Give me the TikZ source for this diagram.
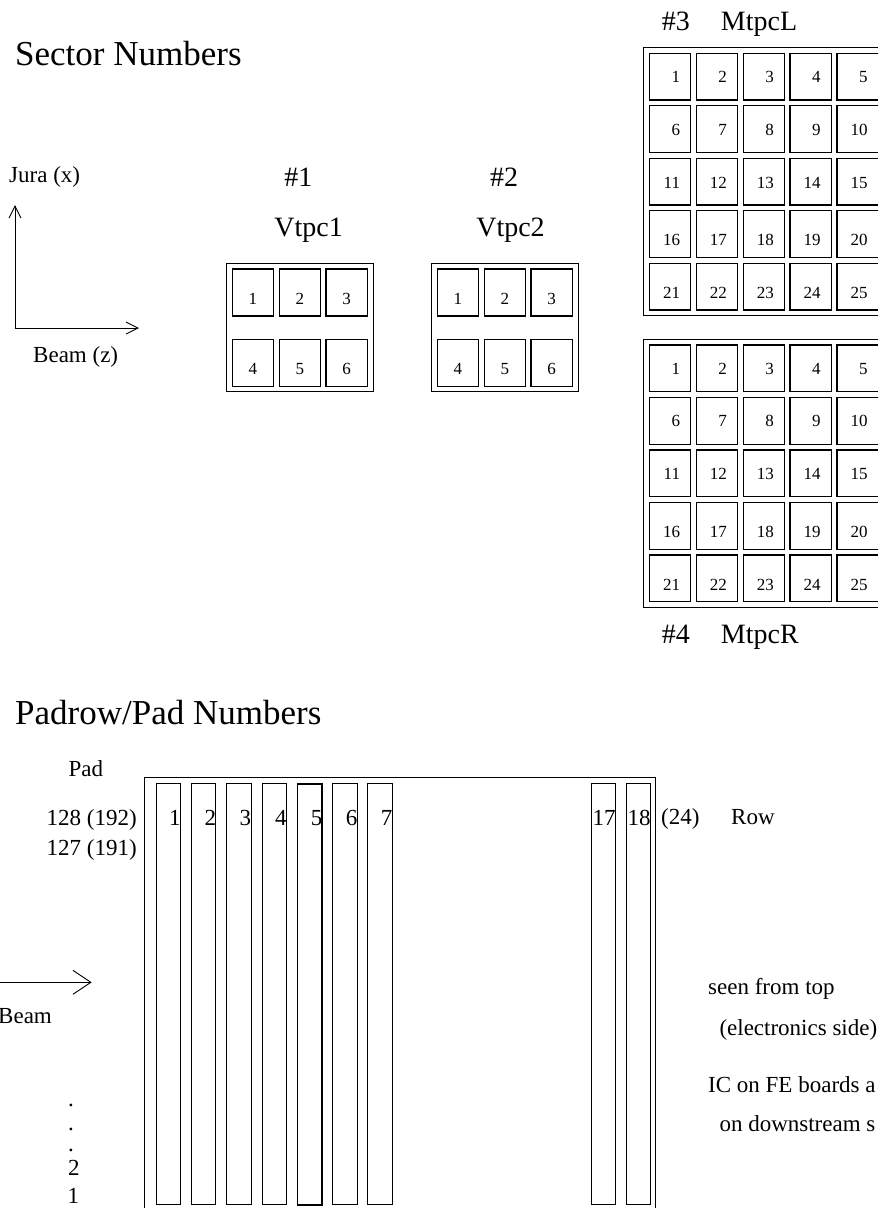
\documentclass[tikz,border=0pt]{standalone}
\usepackage{fontspec}
\setmainfont{Liberation Serif}
\usetikzlibrary{positioning,arrows.meta}

\begin{document}
\begin{tikzpicture}[
    x=1pt, y=-1pt,
    title/.style={font=\fontsize{35}{40}\selectfont, anchor=base west, inner sep=0pt},
    tag/.style={font=\fontsize{23}{27}\selectfont, inner sep=0pt},
    head/.style={font=\fontsize{28}{32}\selectfont, inner sep=0pt},
    num/.style={font=\fontsize{17}{20}\selectfont, inner sep=0pt, anchor=base},
    frame/.style={draw, line width=1pt},
    cell/.style={draw, line width=1.2pt, minimum width=41.3pt, minimum height=46.7pt, inner sep=0pt},
    strip/.style={draw, minimum width=24.3pt, minimum height=420.7pt, inner sep=0pt, anchor=north west},
    arrow/.style={-{Straight Barb[length=12pt, width=12pt]}, line width=0.9pt}
]
\useasboundingbox (0,0) rectangle (878,1208);

\node[title] (sectors) at (15,65) {Sector Numbers};

\coordinate (origin) at (15,328);
\coordinate (zend) at (139,328);
\coordinate (xend) at (15,205);
\draw[arrow] (origin) -- (zend);
\draw[arrow] (origin) -- (xend);
\node[tag, anchor=base west] (jura) at (9,182.7) {Jura (x)};
\node[tag, anchor=base west] (beamz) at (33,362.7) {Beam (z)};

\node[head, anchor=base] (vonenum) at (298.3,186.7) {\#1};
\node[head, anchor=base] (vonename) at (308.7,236) {Vtpc1};
\node[head, anchor=base] (vtwonum) at (504,186.7) {\#2};
\node[head, anchor=base] (vtwoname) at (510.5,236) {Vtpc2};

\foreach \vt/\xo in {vone/0, vtwo/205} {
  \draw[frame] (226.7+\xo,263.3) rectangle (373.3+\xo,391.7);
  \foreach \r in {1,2}
    \foreach \c in {1,2,3} {
      \pgfmathtruncatemacro{\n}{3*(\r-1)+\c}
      \node[cell, minimum height=47pt] (\vt-\n) at ({252.95+46.85*(\c-1)+\xo},{292.5+70.3*(\r-1)}) {};
      \node[num] (\vt-\n-lbl) at ([yshift=-12pt]\vt-\n.center) {\n};
    }
}

\node[head, anchor=base west] (mleftnum) at (661.7,30) {\#3};
\node[head, anchor=base west] (mleftname) at (720.7,30) {MtpcL};
\node[head, anchor=base west] (mrightnum) at (661.7,643.3) {\#4};
\node[head, anchor=base west] (mrightname) at (720.7,643.3) {MtpcR};

\foreach \mt/\yo in {mleft/0, mright/291.7} {
  \draw[frame] (643.3,47.7+\yo) rectangle (890,315.7+\yo);
  \foreach \r/\dy in {1/6,2/6,3/6.5,4/11.5,5/12}
    \foreach \c in {1,...,5} {
      \pgfmathtruncatemacro{\n}{5*(\r-1)+\c}
      \node[cell] (\mt-\n) at ({670+46.9*(\c-1)},{76.7+52.5*(\r-1)+\yo}) {};
      \node[num] (\mt-\n-lbl) at ([xshift=1.5pt, yshift=-\dy pt]\mt-\n.center) {\makebox[1em][r]{\n}};
    }
}

\node[title] (padrows) at (15,724.3) {Padrow/Pad Numbers};
\node[tag, anchor=base west] (padhead) at (68.3,776.7) {Pad};
\node[tag, anchor=base east] (padtop) at (137,825) {128 (192)};
\node[tag, anchor=base east] (padnext) at (137,855) {127 (191)};

\draw[frame] (144.3,1220) -- (144.3,777.7) -- (655.7,777.7) -- (655.7,1220);
\foreach \p/\xl/\lw in {1/155.7/0.9, 2/191/0.9, 3/226.2/0.9, 4/261.7/0.9, 5/296.7/1.5, 6/332.3/0.9, 7/367.3/0.9, 17/590.7/0.9, 18/625.7/0.9} {
  \node[strip, line width=\lw pt] (row\p) at (\xl,783.3) {};
  \node[tag, anchor=base east] (row\p-lbl) at ([yshift=-41.7pt]row\p.north east) {\p};
}
\node[tag, anchor=base west] (rowmax) at (661,824.3) {(24)};
\node[tag, anchor=base west] (rowhead) at (731,824.3) {Row};

\coordinate (beamtail) at (-2,982.3);
\coordinate (beamhead) at (91.7,982.3);
\draw[arrow, -{Straight Barb[length=18pt, width=24pt]}] (beamtail) -- (beamhead);
\node[tag, anchor=base west] (beam) at (-2,1023.3) {Beam};

\node[tag, anchor=base] (dota) at (71,1106) {.};
\node[tag, anchor=base] (dotb) at (71,1130) {.};
\node[tag, anchor=base] (dotc) at (71,1151) {.};
\node[tag, anchor=base] (padtwo) at (73.8,1175) {2};
\node[tag, anchor=base] (padone) at (73.3,1203.3) {1};

\node[tag, anchor=base west] (seen) at (708,994.5) {seen from top};
\node[tag, anchor=base west] (side) at (719.3,1035) {(electronics side)};
\node[tag, anchor=base west] (icfe) at (708,1092.3) {IC on FE boards a};
\node[tag, anchor=base west] (downs) at (719.3,1131.7) {on downstream s};
\end{tikzpicture}
\end{document}
